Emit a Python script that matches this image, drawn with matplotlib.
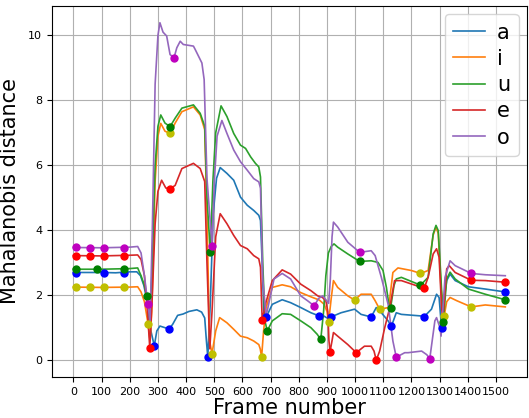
import matplotlib
matplotlib.use("Agg")
import matplotlib.pyplot as plt

# curve breakpoints (frame, distance)
curve_a = [(0, 2.7), (100, 2.7), (150, 2.69), (200, 2.72), (225, 2.72), (238, 2.6), (250, 2.3), (262, 1.8),
           (275, 0.9), (287, 0.44), (296, 0.9), (307, 1.05), (325, 1.0), (339, 0.96), (352, 1.1), (370, 1.38),
           (389, 1.42), (410, 1.5), (438, 1.55), (455, 1.48), (466, 1.3), (472, 0.6), (477, 0.09), (486, 1.8),
           (496, 4.5), (508, 5.6), (521, 5.93), (545, 5.75), (569, 5.54), (593, 5.02), (617, 4.77), (640, 4.61),
           (658, 4.46), (664, 4.3), (670, 3.0), (676, 1.5), (684, 1.32), (706, 1.72), (741, 1.86), (771, 1.77),
           (807, 1.62), (843, 1.46), (870, 1.37), (885, 1.38), (900, 1.3), (914, 1.33), (950, 1.46), (998, 1.57),
           (1021, 1.41), (1057, 1.33), (1075, 1.62), (1093, 1.46), (1117, 1.21), (1129, 1.05), (1146, 1.46),
           (1164, 1.41), (1236, 1.36), (1245, 1.34), (1271, 1.57), (1289, 2.03), (1298, 1.93), (1303, 1.4),
           (1307, 1.0), (1318, 2.0), (1325, 2.45), (1337, 2.65), (1355, 2.45), (1402, 2.26), (1462, 2.19),
           (1533, 2.1)]
curve_i = [(0, 2.25), (100, 2.24), (200, 2.25), (228, 2.26), (240, 2.1), (252, 1.8), (265, 1.11), (272, 0.6),
           (278, 1.5), (290, 5.5), (300, 6.9), (310, 7.29), (325, 7.05), (343, 6.98), (361, 7.3), (385, 7.65),
           (426, 7.8), (450, 7.55), (466, 7.1), (474, 4.5), (483, 0.6), (492, 0.2), (505, 0.9), (519, 1.31),
           (545, 1.15), (569, 0.95), (593, 0.74), (617, 0.69), (640, 0.59), (658, 0.48), (663, 0.35), (668, 0.1),
           (675, 0.9), (684, 1.62), (706, 2.24), (741, 2.32), (771, 2.26), (807, 2.08), (843, 1.95), (873, 1.85),
           (890, 1.72), (900, 1.5), (906, 1.18), (915, 1.9), (923, 2.45), (938, 2.24), (974, 1.98), (998, 1.85),
           (1021, 2.03), (1057, 2.03), (1071, 1.83), (1087, 1.57), (1119, 1.62), (1134, 2.7), (1152, 2.84),
           (1200, 2.76), (1232, 2.67), (1259, 2.76), (1277, 3.85), (1287, 4.1), (1295, 3.9), (1305, 2.2),
           (1316, 1.36), (1325, 1.8), (1337, 1.93), (1361, 1.83), (1412, 1.64), (1462, 1.7), (1533, 1.64)]
curve_u = [(0, 2.8), (100, 2.8), (200, 2.82), (228, 2.84), (240, 2.6), (252, 2.3), (262, 1.98), (270, 1.2),
           (278, 2.5), (290, 6.0), (300, 7.2), (310, 7.55), (325, 7.3), (343, 7.19), (361, 7.45), (385, 7.76),
           (426, 7.86), (450, 7.6), (466, 7.2), (474, 5.0), (486, 3.32), (495, 5.5), (505, 7.0), (524, 7.83),
           (545, 7.5), (569, 6.98), (593, 6.62), (611, 6.52), (629, 6.26), (646, 6.06), (658, 5.95), (664, 5.64),
           (672, 3.0), (680, 1.2), (688, 0.9), (706, 1.21), (741, 1.43), (771, 1.41), (807, 1.21), (843, 1.0),
           (865, 0.8), (878, 0.64), (888, 1.5), (896, 2.6), (905, 3.3), (915, 3.5), (925, 3.58), (938, 3.48),
           (974, 3.27), (1016, 3.04), (1057, 3.06), (1081, 3.01), (1099, 2.76), (1111, 2.24), (1120, 1.7),
           (1126, 1.62), (1138, 2.3), (1146, 2.5), (1164, 2.55), (1232, 2.31), (1259, 2.55), (1277, 3.89),
           (1287, 4.15), (1295, 3.99), (1305, 2.45), (1313, 1.19), (1325, 2.5), (1337, 2.71), (1355, 2.5),
           (1402, 2.19), (1462, 2.03), (1533, 1.86)]
curve_e = [(0, 3.22), (100, 3.21), (200, 3.23), (228, 3.24), (240, 3.1), (252, 2.6), (262, 1.6), (271, 0.38),
           (280, 2.0), (290, 4.2), (300, 5.2), (313, 5.54), (328, 5.3), (343, 5.28), (361, 5.38), (385, 5.9),
           (426, 6.06), (450, 5.9), (466, 5.5), (474, 3.0), (484, 0.35), (492, 1.5), (505, 3.8), (521, 4.51),
           (545, 4.2), (569, 3.84), (593, 3.53), (617, 3.43), (640, 3.22), (658, 3.12), (664, 2.86), (670, 1.23),
           (684, 1.8), (706, 2.45), (741, 2.78), (771, 2.65), (807, 2.34), (843, 2.14), (867, 1.98), (884, 1.93),
           (896, 1.83), (903, 1.5), (907, 0.6), (911, 0.26), (918, 0.6), (923, 0.85), (938, 0.74), (974, 0.48),
           (1004, 0.23), (1033, 0.43), (1057, 0.43), (1067, 0.28), (1075, 0.0), (1087, 0.28), (1105, 1.0),
           (1123, 1.62), (1140, 2.45), (1164, 2.45), (1236, 2.24), (1245, 2.21), (1259, 2.55), (1277, 3.27),
           (1289, 3.43), (1298, 3.17), (1307, 1.62), (1311, 1.21), (1325, 2.81), (1334, 2.91), (1355, 2.7),
           (1412, 2.46), (1462, 2.45), (1533, 2.4)]
curve_o = [(0, 3.47), (100, 3.46), (200, 3.48), (228, 3.5), (240, 3.3), (252, 2.6), (264, 1.74), (272, 1.2),
           (280, 4.0), (290, 8.5), (300, 10.0), (307, 10.39), (318, 10.1), (331, 9.98), (343, 9.41), (357, 9.31),
           (367, 9.62), (379, 9.82), (390, 9.72), (426, 9.67), (432, 9.57), (456, 9.15), (464, 8.64), (474, 5.6),
           (492, 3.53), (500, 5.5), (510, 6.9), (527, 7.38), (545, 6.98), (569, 6.47), (593, 6.11), (617, 5.85),
           (640, 5.59), (658, 5.49), (664, 5.3), (672, 2.5), (684, 1.36), (712, 2.5), (741, 2.67), (771, 2.5),
           (807, 1.98), (831, 1.83), (855, 1.67), (870, 1.9), (885, 1.98), (897, 1.85), (906, 1.75), (912, 2.5),
           (918, 3.8), (923, 4.25), (938, 4.1), (974, 3.63), (1016, 3.32), (1057, 3.37), (1071, 3.22),
           (1093, 2.55), (1117, 1.72), (1134, 0.59), (1146, 0.09), (1176, 0.23), (1188, 0.23), (1236, 0.28),
           (1254, 0.17), (1265, 0.05), (1283, 1.21), (1289, 1.31), (1301, 1.0), (1305, 0.74), (1319, 2.55),
           (1337, 3.06), (1355, 2.91), (1379, 2.81), (1412, 2.67), (1462, 2.63), (1533, 2.6)]

# detected vowel frames (dots)
marks_a = [(8, 2.69), (107, 2.69), (180, 2.69), (287, 0.44), (339, 0.96), (477, 0.09), (684, 1.32), (870, 1.37),
           (914, 1.33), (1057, 1.33), (1129, 1.05), (1245, 1.34), (1307, 1.0), (1533, 2.1)]
marks_i = [(8, 2.25), (60, 2.24), (107, 2.24), (180, 2.24), (265, 1.11), (343, 6.98), (492, 0.2), (668, 0.1),
           (907, 1.18), (998, 1.85), (1087, 1.57), (1232, 2.67), (1316, 1.36), (1412, 1.64)]
marks_u = [(8, 2.8), (83, 2.8), (180, 2.8), (262, 1.98), (343, 7.19), (486, 3.32), (688, 0.9), (878, 0.64),
           (1016, 3.04), (1126, 1.62), (1232, 2.31), (1313, 1.19), (1533, 1.86)]
marks_e = [(8, 3.22), (60, 3.21), (107, 3.21), (180, 3.22), (271, 0.38), (343, 5.28), (670, 1.23), (911, 0.26),
           (1004, 0.23), (1075, 0.0), (1245, 2.21), (1412, 2.46), (1533, 2.4)]
marks_o = [(8, 3.47), (60, 3.45), (107, 3.45), (180, 3.46), (264, 1.74), (357, 9.31), (492, 3.53), (855, 1.67),
           (1016, 3.32), (1146, 0.09), (1265, 0.05), (1412, 2.67)]

labels = ['a', 'i', 'u', 'e', 'o']
curves = [curve_a, curve_i, curve_u, curve_e, curve_o]
marks = [marks_a, marks_i, marks_u, marks_e, marks_o]
dot_colors = ['b', 'y', 'g', 'r', 'm']

fig = plt.figure(figsize=(5.29, 4.18), dpi=100)
ax = fig.add_axes([0.098, 0.098, 0.898, 0.888])

for lab, c in zip(labels, curves):
    xs, ys = zip(*c)
    ax.plot(xs, ys, lw=1.2, label=lab)
for m, col in zip(marks, dot_colors):
    xs, ys = zip(*m)
    ax.plot(xs, ys, 'o', color=col, ms=5, zorder=3)

ax.set_xticks(range(0, 1600, 100))
ax.tick_params(labelsize=8)
ax.grid(True, color='#b0b0b0', lw=0.8)
ax.set_xlabel('Frame number', fontsize=15, labelpad=1)
ax.set_ylabel('Mahalanobis distance', fontsize=15, labelpad=6)
ax.legend(loc='upper right', fontsize=15, handlelength=1.5, labelspacing=0.3,
          handletextpad=0.6, borderaxespad=0.4)

fig.savefig('out.png', dpi=100)
